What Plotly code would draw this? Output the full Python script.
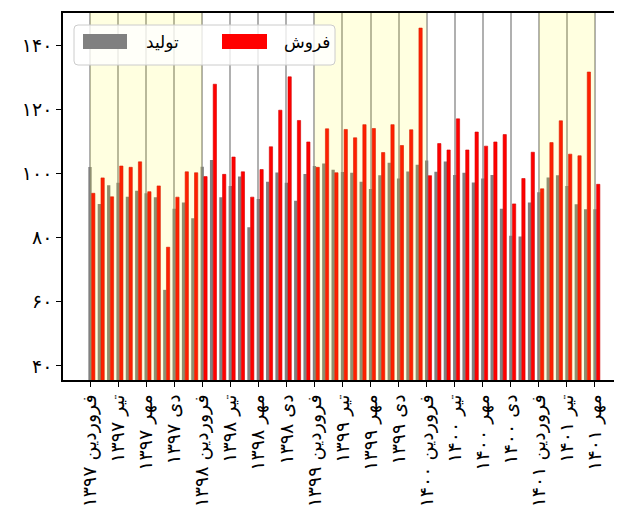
import plotly.graph_objects as go

# monthly index values, farvardin 1397 .. mehr 1401
years = ['۱۳۹۷', '۱۳۹۸', '۱۳۹۹', '۱۴۰۰', '۱۴۰۱']
quarter_months = ['فروردین', 'تیر', 'مهر', 'دی']

production = [102.0, 90.5, 96.3, 97.1, 92.7, 94.6, 93.8, 92.6, 63.7, 89.0, 90.9, 86.0,
              102.1, 104.2, 92.6, 96.1, 99.0, 83.2, 92.0, 97.4, 100.3, 97.1, 91.5, 99.8,
              102.3, 103.1, 101.1, 100.4, 100.2, 97.4, 95.1, 99.4, 103.3, 98.4, 100.6, 102.7,
              104.0, 100.5, 103.7, 99.5, 100.2, 97.2, 98.4, 99.5, 89.0, 80.6, 80.3, 90.9,
              94.1, 98.7, 99.4, 96.1, 90.4, 88.8, 88.8]

sales = [93.8, 98.6, 92.7, 102.3, 101.9, 103.6, 94.3, 96.1, 77.0, 92.6, 100.5, 100.2,
         99.0, 127.8, 99.7, 105.1, 100.5, 92.6, 101.2, 108.3, 119.7, 130.1, 116.5, 109.8,
         101.9, 113.9, 100.2, 113.7, 111.1, 115.2, 114.0, 106.5, 115.2, 108.7, 113.6, 145.3,
         99.3, 109.3, 107.3, 117.0, 107.3, 112.9, 108.5, 109.8, 112.1, 90.5, 98.4, 106.6,
         95.2, 109.6, 116.4, 106.0, 105.5, 131.6, 96.6]

y_ticks = [40, 60, 80, 100, 120, 140]
y_tick_text = ['۴۰', '۶۰', '۸۰', '۱۰۰', '۱۲۰', '۱۴۰']
shaded_years = [0, 2, 4]

months = list(range(len(production)))
tick_vals = months[::3]
tick_text = [f'{quarter_months[i % 4]} {years[i // 4]}' for i in range(len(tick_vals))]

FONT = 'DejaVu Sans'
# page body has an 8px margin, so the figure is shifted; sizes compensate for it
W, H = 614, 511
L, R, T, B = 55, 0, 5, 139
OFF = 8


def px_to_paper(x, y):
  # x, y in window pixels
  return (x - OFF - L) / (W - L - R), (H - B - (y - OFF)) / (H - B - T)


fig = go.Figure()
fig.add_trace(go.Bar(x=months, y=production, name='تولید', marker_color='#808080',
                     width=0.35, offset=-0.175, marker_line_width=0))
fig.add_trace(go.Bar(x=months, y=sales, name='فروش', marker_color='#ff0000',
                     width=0.35, offset=0.175, marker_line_color='#d40000', marker_line_width=0.6))

for yi in shaded_years:
  fig.add_vrect(x0=12 * yi, x1=min(12 * (yi + 1), len(months) - 1),
                fillcolor='yellow', opacity=0.12, layer='above', line_width=0)

# legend drawn by hand (wide patches like the original)
bx0, by1 = px_to_paper(74, 25)
bx1, by0 = px_to_paper(335, 65)
rx, ry = 4 / (W - L - R), 4 / (H - B - T)
path = (f'M{bx0 + rx},{by0} L{bx1 - rx},{by0} Q{bx1},{by0} {bx1},{by0 + ry} '
        f'L{bx1},{by1 - ry} Q{bx1},{by1} {bx1 - rx},{by1} L{bx0 + rx},{by1} '
        f'Q{bx0},{by1} {bx0},{by1 - ry} L{bx0},{by0 + ry} Q{bx0},{by0} {bx0 + rx},{by0} Z')
fig.add_shape(type='path', path=path, xref='paper', yref='paper',
              fillcolor='rgba(255,255,255,0.8)', line=dict(color='#cccccc', width=1), layer='above')

legend_items = [('تولید', '#808080', 83, 127, 162), ('فروش', '#ff0000', 222, 267, 307)]
for label, color, p0, p1, tx in legend_items:
  x0, y1 = px_to_paper(p0, 34)
  x1, y0 = px_to_paper(p1, 49)
  fig.add_shape(type='rect', xref='paper', yref='paper', x0=x0, x1=x1, y0=y0, y1=y1,
                fillcolor=color, line_width=0, layer='above')
  ax, ay = px_to_paper(tx, 42)
  fig.add_annotation(x=ax, y=ay, xref='paper', yref='paper', text=label, showarrow=False,
                     font=dict(family=FONT, size=17, color='black'), xanchor='center', yanchor='middle')

fig.update_layout(
  width=W, height=H,
  margin=dict(l=L, r=R, t=T, b=B),
  showlegend=False,
  plot_bgcolor='white',
  paper_bgcolor='white',
  font=dict(family=FONT, size=19, color='black'),
  xaxis=dict(
    range=[-2.887, 56.89],
    tickvals=tick_vals,
    ticktext=tick_text,
    tickangle=-90,
    tickfont=dict(size=19),
    showgrid=True, gridcolor='#b0b0b0', gridwidth=1.5,
    showline=True, linecolor='black', linewidth=1.5, mirror=True,
    ticks='outside', ticklen=5, tickwidth=1.2, tickcolor='black',
    zeroline=False, automargin=False,
  ),
  yaxis=dict(
    range=[35.6, 150],
    tickvals=y_ticks,
    ticktext=y_tick_text,
    showgrid=False,
    showline=True, linecolor='black', linewidth=1.5,
    ticks='outside', ticklen=5, tickwidth=1.2, tickcolor='black',
    zeroline=False, automargin=False,
  ),
)

fig.write_html('out.html')
